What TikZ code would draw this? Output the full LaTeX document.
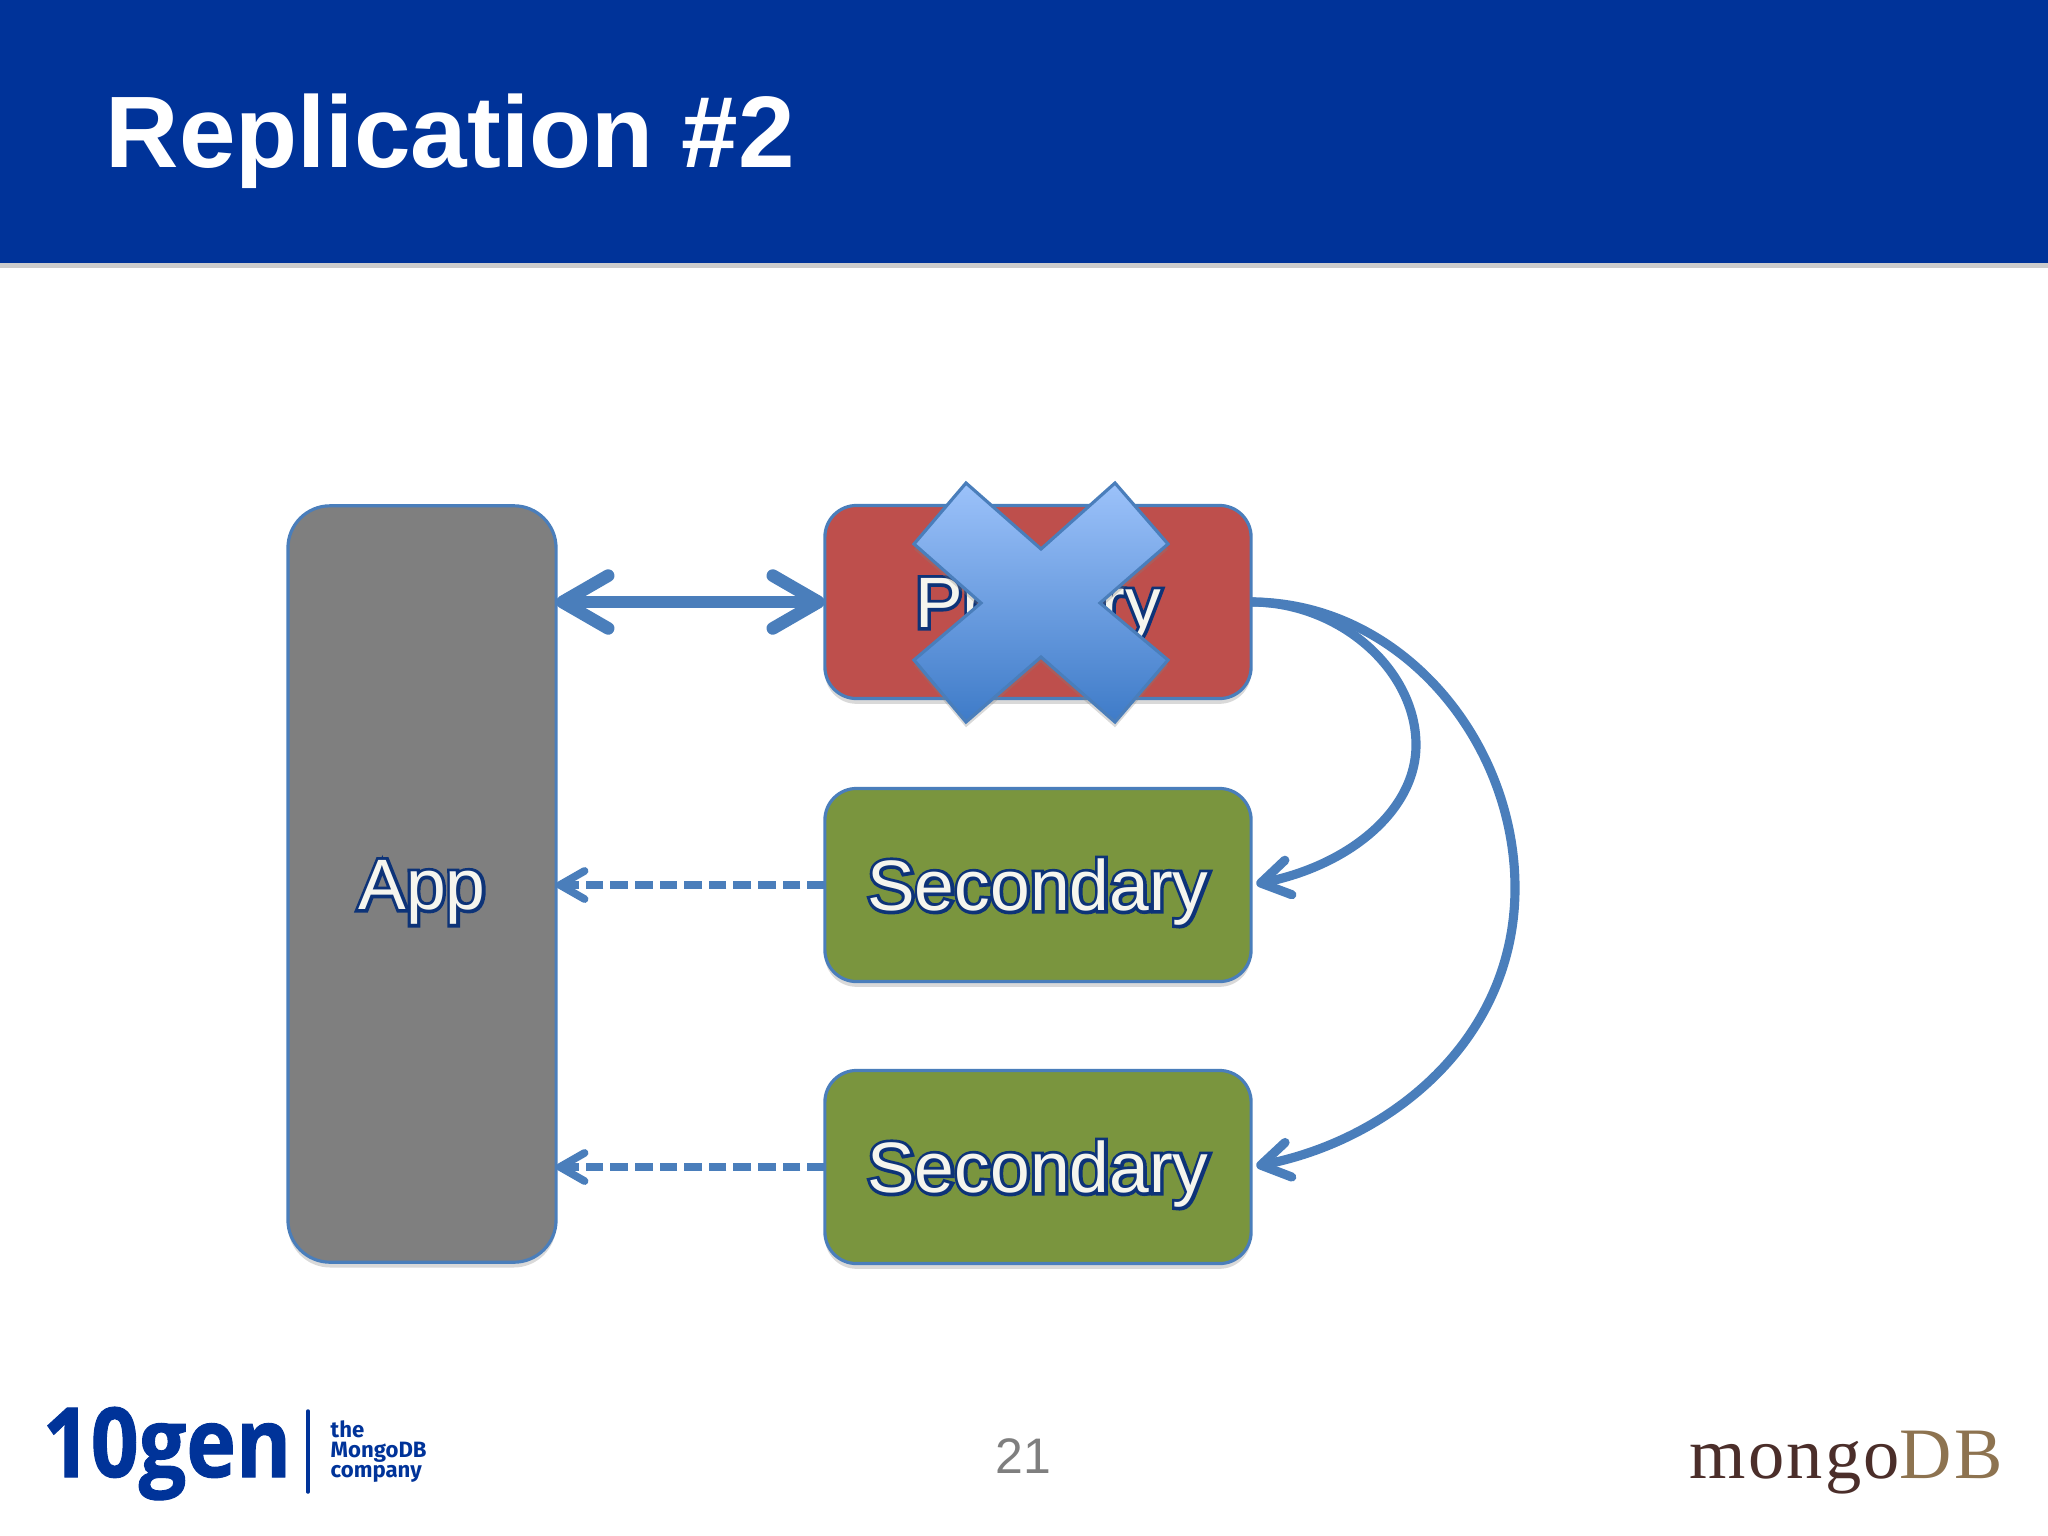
\documentclass[tikz,border=0pt]{standalone}
\usepackage{fontspec}
\setmainfont{Liberation Sans}
\newfontfamily\outlinefont[FakeBold=9]{Liberation Sans}
\newfontfamily\genfont[FakeBold=1,FakeStretch=0.87]{Open Sans}
\newfontfamily\companyfont{Fira Sans}
\newfontfamily\mongofont[LetterSpace=3]{Liberation Serif}
\usetikzlibrary{arrows.meta,shadows}
% dark rim behind the letters, plain letters on top
\newcommand{\outlined}[1]{\rlap{\color{rimblue}\outlinefont #1}#1}
\definecolor{banner}{HTML}{003399}
\definecolor{edge}{HTML}{4A7EBB}
\definecolor{rimblue}{HTML}{0D3378}
\definecolor{appgray}{HTML}{7F7F7F}
\definecolor{primred}{HTML}{BE4F4C}
\definecolor{secgreen}{HTML}{7A953E}
\definecolor{textcream}{HTML}{F5F5EE}
\definecolor{crosstop}{HTML}{9CC2FA}
\definecolor{crossbot}{HTML}{3E7BC8}
\definecolor{mongobrown}{HTML}{4B2E2A}
\definecolor{dbbrown}{HTML}{8D7350}
\tikzset{
  box/.style={draw=edge,line width=0.9pt,rounded corners=9pt,outer sep=0pt,inner sep=0pt,
    minimum width=4.26cm,minimum height=1.93cm,text=textcream,text height=14.5pt,text depth=0pt,
    font=\fontsize{20.3}{24}\selectfont,drop shadow={shadow xshift=0pt,shadow yshift=-1.5pt,opacity=0.3}},
  rw/.style={edge,line width=3.6pt,{Straight Barb[length=13pt,width=15pt,round]}-{Straight Barb[length=13pt,width=15pt,round]}},
  readlink/.style={edge,line width=2.2pt,dash pattern=on 5pt off 2pt,-{Straight Barb[length=7pt,width=8pt,round]}},
  sync/.style={edge,line width=2.6pt,-{Straight Barb[length=8pt,width=10pt,round]},shorten >=1.5pt},
  lbl/.style={inner sep=0pt,anchor=base west},
}
\begin{document}
\begin{tikzpicture}[x=0.01cm,y=-0.01cm]
    \useasboundingbox (0,0) rectangle (2048,1536);
    % ------------- banner -------------
    \fill[banner,drop shadow={shadow xshift=0pt,shadow yshift=-1.5pt,opacity=0.4}] (0,0) rectangle (2048,263);
    \node[lbl,text=white,font=\fontsize{28.9}{30}\selectfont\bfseries] (title) at (105,167) {Replication \#2};
    % ------------- boxes -------------
    \node[box,fill=appgray,minimum width=2.68cm,minimum height=7.56cm,rounded corners=12pt] (app) at (422,884) {\outlined{App}};
    \node[box,fill=primred] (primary) at (1038,602) {\outlined{Primary}};
    \node[box,fill=secgreen] (secA) at (1038,885) {\outlined{Secondary}};
    \node[box,fill=secgreen] (secB) at (1038,1167) {\outlined{Secondary}};
    % the cross over the primary
    \path[draw=edge,line width=0.9pt,top color=crosstop,bottom color=crossbot,
      drop shadow={shadow xshift=0pt,shadow yshift=-1.5pt,opacity=0.3}]
      (966,483) -- (1041,549) -- (1115,483) -- (1168,544) -- (1100,603) -- (1168,660) -- (1115,722)
      -- (1041,657) -- (966,722) -- (914,660) -- (981,603) -- (914,544) -- cycle;
    % ------------- links -------------
    \draw[rw] (app.east |- primary.west) -- (primary.west);
    \draw[readlink] (secA.west) -- (app.east |- secA.west);
    \draw[readlink] (secB.west) -- (app.east |- secB.west);
    % replication curves
    \draw[sync] (primary.east) .. controls (1340,602) and (1416,670) .. (1416,745)
      .. controls (1416,810) and (1350,865) .. (secA.east);
    \draw[sync] (primary.east) .. controls (1400,602) and (1515,740) .. (1515,888)
      .. controls (1515,1040) and (1390,1140) .. (secB.east);
    % ------------- footer -------------
    \node[lbl,text=banner,font=\genfont\bfseries\fontsize{27.5}{30}\selectfont] (gen) at (42,1477) {10gen};
    \coordinate (sepTop) at (308,1411);
    \coordinate (sepBot) at (308,1492);
    \draw[banner,line width=1pt,line cap=round] (sepTop) -- (sepBot);
    \node[lbl,text=banner,font=\companyfont\fontsize{6.3}{7}\selectfont\bfseries] (the) at (330,1437) {the};
    \node[lbl,text=banner,font=\companyfont\fontsize{6.3}{7}\selectfont\bfseries] (mdb) at (330,1457) {MongoDB};
    \node[lbl,text=banner,font=\companyfont\fontsize{6.3}{7}\selectfont\bfseries] (comp) at (330,1477) {company};
    \node[lbl,text=appgray,font=\fontsize{14.2}{16}\selectfont] (page) at (995,1473) {21};
    \node[lbl,font=\mongofont\fontsize{20.6}{24}\selectfont] (mongo) at (1689,1478) {\textcolor{mongobrown}{mongo}\textcolor{dbbrown}{DB}};
  \end{tikzpicture}
\end{document}
